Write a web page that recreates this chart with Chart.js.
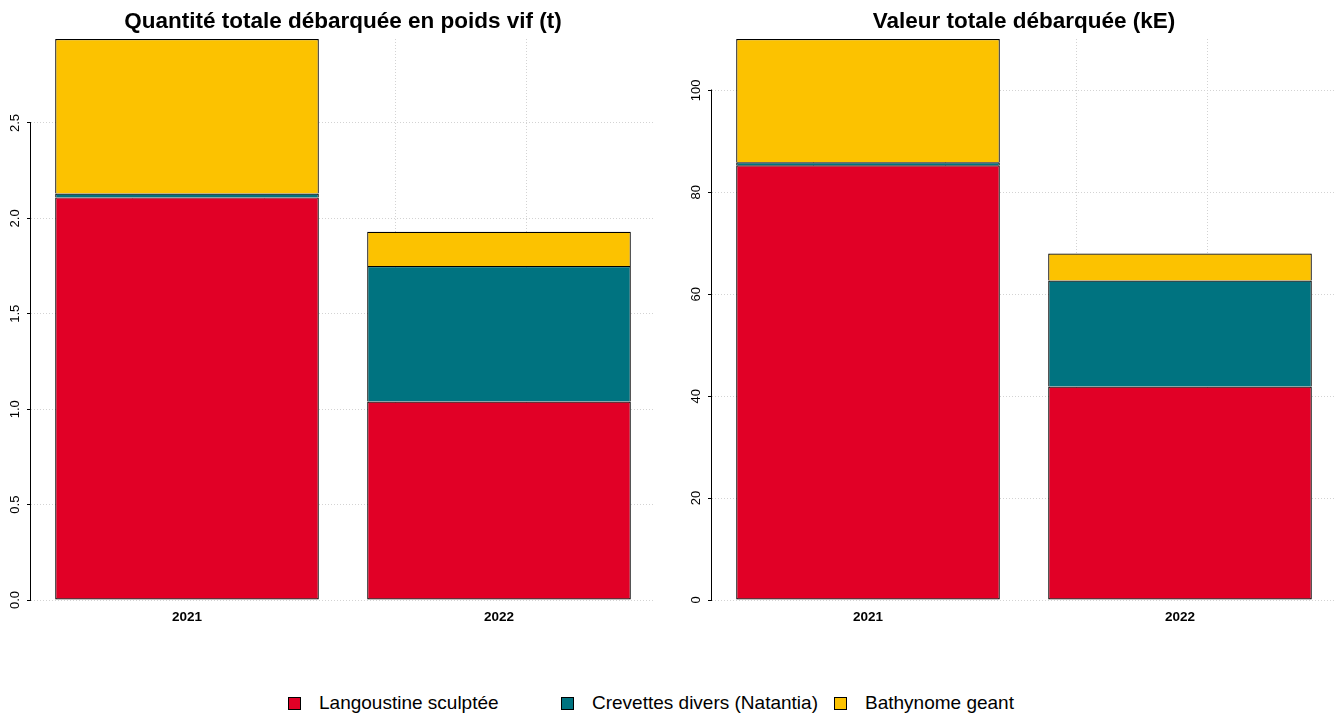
<!DOCTYPE html>
<html>
<head>
<meta charset="utf-8">
<script src="https://cdn.jsdelivr.net/npm/chart.js@4"></script>
<style>
  body { margin: 0; background: #fff; width: 1341px; height: 713px; position: relative; overflow: hidden; }
  #left, #right { position: absolute; top: 0; }
  #left { left: 0; }
  #right { left: 670px; }
  #legend { position: absolute; top: 692px; left: 288px; display: flex; font-family: 'Liberation Sans', Arial, sans-serif; font-size: 19px; color: #000; }
  .item { width: 273px; display: flex; align-items: center; }
  .box { width: 11px; height: 11px; border: 1px solid #000; margin-right: 18px; }
</style>
</head>
<body>
<canvas id="left" width="670" height="640"></canvas>
<canvas id="right" width="671" height="640"></canvas>
<div id="legend"></div>
<script>
const years = ['2021', '2022'];
const seriesNames = ['Langoustine sculptée', 'Crevettes divers (Natantia)', 'Bathynome geant'];
const seriesColors = ['#E10026', '#007380', '#FCC200'];

// quantity (t)
const langoustineT = [2.11, 1.04];
const crevettesT = [0.02, 0.71];
const bathynomeT = [0.81, 0.18];

// value (kE)
const langoustineKE = [85.3, 41.9];
const crevettesKE = [0.6, 20.8];
const bathynomeKE = [24.2, 5.3];

const FONT = "'Liberation Sans', Arial, sans-serif";

// R style axis line: only from first to last tick
const axisLine = {
  id: 'axisLine',
  afterDraw(chart) {
    const s = chart.scales.y;
    const t = s.ticks;
    const ctx = chart.ctx;
    const x = Math.round(chart.chartArea.left) - 0.5;
    ctx.save();
    ctx.strokeStyle = '#000';
    ctx.lineWidth = 1;
    ctx.beginPath();
    ctx.moveTo(x, Math.round(s.getPixelForValue(t[0].value)) + 0.5);
    ctx.lineTo(x, Math.round(s.getPixelForValue(t[t.length - 1].value)) - 0.5);
    ctx.stroke();
    ctx.restore();
  }
};

function makeChart(id, title, series, step, decimals, yWidth, rightPad, labelPad) {
  const totals = years.map((y, i) => series.reduce((a, s) => a + s[i], 0));
  return new Chart(document.getElementById(id), {
    type: 'bar',
    data: {
      labels: years,
      datasets: series.map((s, i) => ({
        label: seriesNames[i],
        data: s,
        backgroundColor: seriesColors[i],
        borderColor: '#000',
        borderWidth: 1.2,
        // one shared line between stacked segments, like R's rect()
        borderSkipped: i === 0 ? false : 'start',
        inflateAmount: 0,
        categoryPercentage: 1,
        barPercentage: 0.845
      }))
    },
    options: {
      responsive: false,
      animation: false,
      layout: { padding: { left: 0, right: rightPad, top: 0, bottom: 0 } },
      scales: {
        x: {
          stacked: true,
          grid: { display: false, drawTicks: false },
          border: { display: false },
          ticks: { color: '#000', padding: 9, font: { family: FONT, size: 13.5, weight: 'bold' } },
          afterFit(scale) { scale.height = 40; }
        },
        // vertical grid lines of the R plot (barplot x units)
        xg: {
          type: 'linear',
          position: 'top',
          offset: false,
          min: 0.112,
          max: 2.488,
          ticks: { display: false, stepSize: 0.5, includeBounds: false },
          grid: { color: '#d3d3d3', drawTicks: false, offset: false },
          border: { display: false, dash: [1, 2] },
          afterFit(scale) { scale.height = 0; }
        },
        y: {
          stacked: true,
          min: 0,
          max: Math.max(...totals),
          ticks: {
            stepSize: step,
            includeBounds: false,
            minRotation: 90,
            maxRotation: 90,
            crossAlign: 'center',
            padding: labelPad,
            color: '#000',
            font: { family: FONT, size: 13 },
            callback: v => v.toFixed(decimals)
          },
          grid: { color: '#d3d3d3', tickColor: '#000', tickLength: 4, tickBorderDash: [] },
          border: { display: false, dash: [1, 2] },
          afterFit(scale) { scale.width = yWidth; }
        }
      },
      plugins: {
        legend: { display: false },
        tooltip: { enabled: false },
        title: {
          display: true,
          fullSize: false,
          text: title,
          color: '#000',
          font: { family: FONT, size: 22.5, weight: 'bold' },
          padding: { top: 8.2, bottom: 3.8 }
        }
      }
    },
    plugins: [axisLine]
  });
}

makeChart('left', 'Quantité totale débarquée en poids vif (t)', [langoustineT, crevettesT, bathynomeT], 0.5, 1, 31, 15, 3);
makeChart('right', 'Valeur totale débarquée (kE)', [langoustineKE, crevettesKE, bathynomeKE], 20, 0, 42, 5, 1.2);

const legend = document.getElementById('legend');
seriesNames.forEach((name, i) => {
  const item = document.createElement('div');
  item.className = 'item';
  const box = document.createElement('span');
  box.className = 'box';
  box.style.background = seriesColors[i];
  item.appendChild(box);
  item.appendChild(document.createTextNode(name));
  legend.appendChild(item);
});
</script>
</body>
</html>
